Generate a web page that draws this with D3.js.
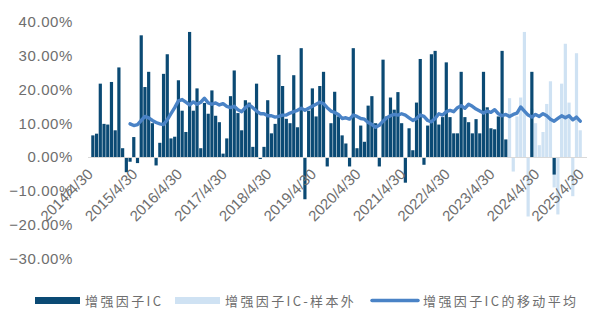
<!DOCTYPE html>
<html>
<head>
<meta charset="utf-8">
<script src="https://cdn.jsdelivr.net/npm/d3@7"></script>
<style>
  html, body { margin: 0; padding: 0; background: #fff; }
  svg { display: block; }
</style>
</head>
<body>
<svg id="chart" width="591" height="318"></svg>
<script>
// ---- data (values in %) ----
const startMonth = "2014-04";  // first category (month end)
const monthCount = 133;        // 2014/4/30 .. 2025/4/30
const tickLabels = ["2014/4/30","2015/4/30","2016/4/30","2017/4/30","2018/4/30","2019/4/30",
                    "2020/4/30","2021/4/30","2022/4/30","2023/4/30","2024/4/30","2025/4/30"];
const yTicks = [-30, -20, -10, 0, 10, 20, 30, 40];

// 增强因子IC (in-sample), index 0 = 2014/4
const icInSample = [
  6.4, 6.9, 21.7, 9.8, 9.6, 22.2, 7.9, 26.5, 2.6, -4.5,
  -1.4, 5.9, -1.8, 36, 20.7, 25.2, 10, -2.5, 4.2, 24.6,
  30.4, 5.5, 6, 22.7, 13.7, 7.4, 37, 13.7, 20.3, 2.6,
  16, 12.8, 19.7, 12.2, 10.3, 1, 5.5, 18, 25.6, 13,
  7.9, 16.8, 16.1, 3, 21.7, -0.6, 3, 16.8, 7, 9.8,
  30.2, 21, 11.3, 10, 24.2, 8.8, 32.2, -12.5, 13.7, 20.3,
  12, 21, 25.2, -2.8, 10, 19.3, 12, 6.4, 4, -2.8,
  32.2, 2.6, 9.3, 4.5, 15.2, 18, 10, -2.8, 28.8, 12,
  17.6, 14, 19.2, 10, -7.6, 8.5, 2, 16.1, 29, -2.3,
  9.3, 30.4, 31.4, 9.6, 11.8, 28, 11.8, 7, 7, 25.2,
  11.8, 10.3, 7, 11.2, 7, 25.2, 14.7, 8.5, 8.2, 12,
  31.4, 5.2
];
// a few in-sample-coloured bars inside the out-of-sample window: [index, value]
const icExtra = [[118, 25.2], [124, -5.2]];

// 增强因子IC-样本外, starts at index 112
const oosStart = 112;
const icOutSample = [
  17.4, -4.3, 12, 17.6, 37, -17.6, 14.3, 10, 3.5, 7.4,
  15.7, 22.4, -9, -17, 21.7, 33.5, 16.1, -11.6, 30.7, 7.9
];

// 增强因子IC的移动平均, starts at index 10
const maStart = 10;
const icMovingAvg = [
  9.8, 9.3, 9.6, 10.8, 12.0, 11.6, 10.8, 10.2, 9.8, 9.6,
  11.0, 12.8, 14.6, 16.6, 17.0, 16.2, 15.4, 16.3, 15.6, 16.2,
  17.4, 16.0, 15.6, 16.0, 15.4, 15.8, 15.0, 14.6, 15.0, 14.0,
  13.4, 14.6, 15.4, 14.6, 13.6, 12.8, 12.8, 12.2, 12.2, 11.8,
  12.0, 12.4, 12.4, 13.0, 13.4, 13.8, 14.4, 13.8, 14.4, 15.0,
  15.6, 16.2, 15.8, 14.6, 13.6, 13.2, 12.6, 11.4, 11.6, 11.2,
  12.4, 12.0, 11.4, 11.2, 10.2, 9.6, 8.8, 9.4, 10.6, 11.6,
  12.2, 12.6, 12.4, 12.8, 12.4, 11.6, 10.8, 11.4, 12.4, 12.0,
  10.8, 10.4, 11.4, 12.8, 12.4, 13.4, 13.8, 13.4, 14.6, 15.2,
  14.4, 15.6, 15.0, 14.2, 13.6, 13.0, 13.6, 13.2, 14.0, 12.8,
  12.2, 12.6, 12.0, 12.6, 13.0, 14.8, 13.6, 12.4, 11.8, 12.6,
  12.0, 12.8, 12.2, 11.2, 10.6, 11.4, 12.2, 11.6, 12.2, 11.0,
  11.8, 10.6
];

const legendLabels = ["增强因子IC", "增强因子IC-样本外", "增强因子IC的移动平均"];

// ---- build ----
const colDark = "#0b4a74";
const colLight = "#cfe2f3";
const colLine = "#4a83c6";
const txtCol = "#6e6e6e";

const fmtLabel = d3.timeFormat("%Y/%-m/%-d");
const start = d3.timeParse("%Y-%m")(startMonth);
const months = d3.range(monthCount).map(i => d3.timeDay.offset(d3.timeMonth.offset(start, i + 1), -1));
const cats = months.map(fmtLabel);

const svg = d3.select("#chart");
const x = d3.scaleBand().domain(cats).range([91, 585.8]).paddingInner(0.14).paddingOuter(0.07);
const y = d3.scaleLinear().domain([-30, 40]).range([258.4, 21.8]);

const barsDark = icInSample.map((v, i) => ({c: cats[i], v}))
  .concat(icExtra.map(([i, v]) => ({c: cats[i], v})));
const barsLight = icOutSample.map((v, i) => ({c: cats[oosStart + i], v}));
const maData = icMovingAvg.map((v, i) => ({c: cats[maStart + i], v}));

// y axis labels
const yAxis = d3.axisLeft(y).tickValues(yTicks).tickSize(0).tickPadding(0)
  .tickFormat(d => d3.format(".2f")(d) + "%");
const gy = svg.append("g").attr("transform", "translate(73,0)").call(yAxis);
gy.select(".domain").remove();
gy.selectAll("text").attr("fill", txtCol).style("font-family", "Liberation Sans, Arial, sans-serif")
  .style("font-size", "15px").style("letter-spacing", "0.6px");

// light bars
svg.append("g").selectAll("rect").data(barsLight).join("rect")
  .attr("x", d => x(d.c)).attr("width", x.bandwidth())
  .attr("y", d => y(Math.max(0, d.v))).attr("height", d => Math.abs(y(d.v) - y(0)))
  .attr("fill", colLight);

// dark bars
svg.append("g").selectAll("rect").data(barsDark).join("rect")
  .attr("x", d => x(d.c)).attr("width", x.bandwidth())
  .attr("y", d => y(Math.max(0, d.v))).attr("height", d => Math.abs(y(d.v) - y(0)))
  .attr("fill", colDark);

// x axis baseline + labels
const xAxis = d3.axisBottom(x).tickValues(tickLabels).tickSize(0).tickPadding(0);
const gx = svg.append("g").attr("transform", `translate(0,${y(0)})`).call(xAxis);
gx.select(".domain").attr("stroke", "#d9d9d9").attr("stroke-width", 1)
  .attr("d", `M88,0.5H587`);
gx.selectAll(".tick text")
  .attr("fill", txtCol)
  .style("font-family", "Liberation Sans, Arial, sans-serif")
  .style("font-size", "15px")
  .attr("text-anchor", "end")
  .attr("dy", null).attr("y", 0)
  .attr("transform", "translate(1,18) rotate(-45)");

// moving average line
const line = d3.line().x(d => x(d.c) + x.bandwidth() / 2).y(d => y(d.v)).curve(d3.curveLinear);
svg.append("path").datum(maData).attr("d", line)
  .attr("fill", "none").attr("stroke", colLine).attr("stroke-width", 3.4)
  .attr("stroke-linejoin", "round").attr("stroke-linecap", "round");

// legend
const lg = svg.append("g");
const legY = 300.5;
const items = [
  {x: 35, type: "rect", color: colDark, tx: 85},
  {x: 175, type: "rect", color: colLight, tx: 225},
  {x: 372, type: "line", color: colLine, tx: 423}
];
items.forEach((it, k) => {
  if (it.type === "rect") {
    lg.append("rect").attr("x", it.x).attr("y", legY - 3.5).attr("width", 45).attr("height", 7).attr("fill", it.color);
  } else {
    lg.append("line").attr("x1", it.x).attr("x2", it.x + 46).attr("y1", legY).attr("y2", legY)
      .attr("stroke", it.color).attr("stroke-width", 3.5).attr("stroke-linecap", "round");
  }
  lg.append("text").attr("x", it.tx).attr("y", legY + 5)
    .attr("fill", txtCol)
    .style("font-family", "'Noto Sans CJK SC', sans-serif")
    .style("font-size", "13px").style("letter-spacing", "2.4px")
    .text(legendLabels[k]);
});
</script>
</body>
</html>
